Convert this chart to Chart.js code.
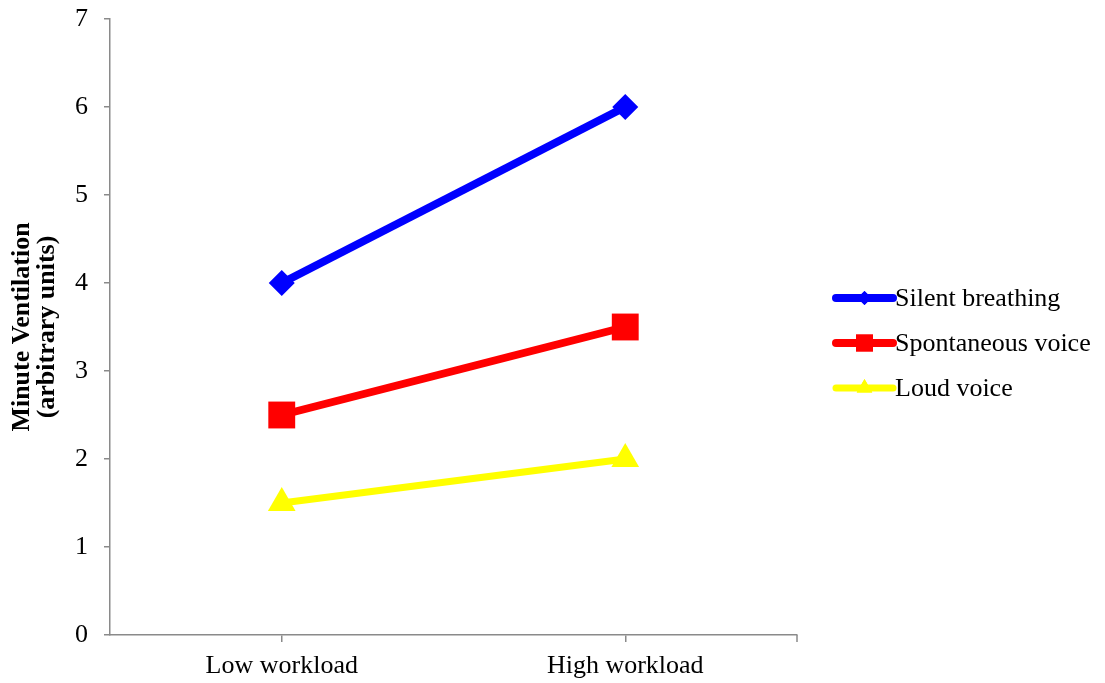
<!DOCTYPE html>
<html>
<head>
<meta charset="utf-8">
<script src="https://cdn.jsdelivr.net/npm/chart.js@4.4.1/dist/chart.umd.min.js"></script>
<style>
  html, body { margin: 0; padding: 0; background: #fff; }
  #wrap { width: 1105px; height: 683px; position: relative; }
</style>
</head>
<body>
<div id="wrap"><canvas id="c" width="1105" height="683"></canvas></div>
<script>
const categories = ["Low workload", "High workload"];
const seriesNames = ["Silent breathing", "Spontaneous voice", "Loud voice"];
const silentBreathing = [4, 6];
const spontaneousVoice = [2.5, 3.5];
const loudVoice = [1.5, 2];
const yTicks = [0, 1, 2, 3, 4, 5, 6, 7];
const yTitle = ["Minute Ventilation", "(arbitrary units)"];

const colors = ["#0000FF", "#FF0000", "#FFFF00"];
const styles = ["rectRot", "rect", "triangle"];
const radii = [13, 19, 16];
const widths = [8, 8, 7];
const values = [silentBreathing, spontaneousVoice, loudVoice];

const AXIS = "#8a8a8a";
const FONT = "'Liberation Serif', 'Times New Roman', serif";

const legendPlugin = {
  id: "customLegend",
  afterDraw(chart) {
    const ctx = chart.ctx;
    ctx.save();
    const x0 = 836, x1 = 893, ys = [298, 343, 388];
    seriesNames.forEach((name, i) => {
      const y = ys[i];
      ctx.strokeStyle = colors[i];
      ctx.lineWidth = widths[i];
      ctx.lineCap = "round";
      ctx.beginPath(); ctx.moveTo(x0, y); ctx.lineTo(x1, y); ctx.stroke();
      ctx.fillStyle = colors[i];
      const mx = (x0 + x1) / 2;
      Chart.helpers.drawPoint(ctx, { pointStyle: styles[i], radius: [7, 12, 9][i], borderWidth: 0 }, mx, y);
      ctx.fill();
      ctx.fillStyle = "#000";
      ctx.font = "26px " + FONT;
      ctx.textBaseline = "middle";
      ctx.textAlign = "left";
      ctx.fillText(name, 895, y + 1);
    });
    ctx.restore();
  }
};

const endTickPlugin = {
  id: "endTick",
  afterDraw(chart) {
    const s = chart.scales.x;
    const ctx = chart.ctx;
    ctx.save();
    ctx.strokeStyle = AXIS;
    ctx.lineWidth = 1.5;
    ctx.beginPath();
    ctx.moveTo(s.right, s.top);
    ctx.lineTo(s.right, s.top + 7);
    ctx.stroke();
    ctx.restore();
  }
};

new Chart(document.getElementById("c"), {
  type: "line",
  data: {
    labels: categories,
    datasets: seriesNames.map((name, i) => ({
      label: name,
      data: values[i],
      borderColor: colors[i],
      backgroundColor: colors[i],
      borderWidth: widths[i],
      pointStyle: styles[i],
      pointRadius: radii[i],
      pointHoverRadius: radii[i],
      pointBorderWidth: 0,
      pointBorderColor: colors[i],
      pointBackgroundColor: colors[i],
      tension: 0,
      fill: false
    }))
  },
  plugins: [legendPlugin, endTickPlugin],
  options: {
    responsive: false,
    animation: false,
    events: [],
    layout: { padding: { left: 0, right: 308, top: 19, bottom: 0 } },
    plugins: { legend: { display: false }, tooltip: { enabled: false } },
    scales: {
      x: {
        type: "category",
        offset: true,
        grid: { display: true, offset: false, drawOnChartArea: false, drawTicks: true, tickLength: 7, color: AXIS, lineWidth: 1.5 },
        border: { display: true, color: AXIS, width: 1.5 },
        ticks: { color: "#000", font: { family: FONT, size: 26 }, padding: 9, maxRotation: 0 },
        afterFit(s) { s.height = 48; }
      },
      y: {
        min: 0, max: 7,
        afterBuildTicks(s) { s.ticks = yTicks.map(v => ({ value: v })); },
        grid: { display: true, drawOnChartArea: false, drawTicks: true, tickLength: 6, color: AXIS, lineWidth: 1.5 },
        border: { display: true, color: AXIS, width: 1.5 },
        ticks: { color: "#000", font: { family: FONT, size: 26 }, padding: 16 },
        title: {
          display: true,
          text: yTitle,
          color: "#000",
          font: { family: FONT, size: 26, weight: "bold", lineHeight: 0.95 },
          padding: { top: 10, bottom: 0 }
        },
        afterFit(s) { s.width = 110; s.paddingTop = 0; s.paddingBottom = 0; }
      }
    }
  }
});
</script>
</body>
</html>
